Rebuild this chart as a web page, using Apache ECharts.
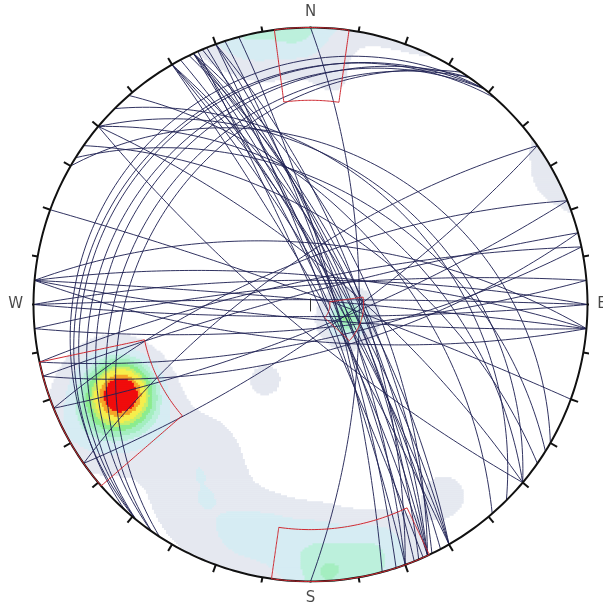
<!DOCTYPE html>
<html>
<head>
<meta charset="utf-8">
<script src="https://cdn.jsdelivr.net/npm/echarts/dist/echarts.min.js"></script>
<style>
html,body{margin:0;padding:0;background:#ffffff;}
#chart{width:603px;height:607px;}
</style>
</head>
<body>
<div id="chart"></div>
<script>
// Lower-hemisphere equal-angle stereonet: planes as great circles, pole density contours, set windows.

// Planes (dip direction / dip, degrees)
const setA_dipDir = [60,60,60,60,62,64,65,65,65,65,65,66,67,68,70,70,70,72,75,90];
const setA_dip    = [72,76,80,85,78,70,66,72,75,79,83,87,74,81,70,77,84,80,80,70];
const setB_dipDir = [0,180,0,5,5,185,5,185,355,175,348,168,165,345,338,158,325,145];
const setB_dip    = [88,85,80,65,78,84,88,75,82,80,80,75,70,85,72,80,72,78];
const setC_dipDir = [309,309,309,312,305,305,303];
const setC_dip    = [11,14,17,13,19,23,26];
const setD_dipDir = [30,40,32,40,45,49,35,40,220,20];
const setD_dip    = [32,38,45,49,40,55,58,75,80,86];

// Pole concentrations (trend, plunge, weight, spread in degrees)
const poleTrend  = [245,238,110,358,358,164,176,187,63,211,145,218,208,208,350,6,345,190,178,197];
const polePlunge = [16,4,74,0,3,5,6,6,3,55,10,24,11,12.6,8,12,3,14,14,6];
const poleWeight = [10,1.3,6.5,2.4,0.7,3.9,1.9,1.6,0.8,3.0,2.6,2.2,2.2,0.4,1.3,1.7,0.9,1.6,1.5,1.7];
const poleSpread = [8.5,7,8,6,4,7,7,6,5,5,5,11,11,1.5,6,6,5,6,6,6];

// Contour levels and fills
const contourLevels = [1.72,3.37,4.79,5.54,6.37,7.12,7.69,8.54,9.14];
const contourColors = ['#e5e8f0','#d6ecf3','#bcf0dc','#a4eec0','#8cec8e','#c8ef6a','#f6ee4c','#f6a428','#f00c0c'];

// Set windows: [trend from, trend to, plunge from, plunge to]
const windowTrendFrom  = [352.5,154.6,229.1,82];
const windowTrendTo    = [368,188.1,258,133];
const windowPlungeFrom = [0,0,0,68.3];
const windowPlungeTo   = [17.2,11.8,27,82];

const compassLabels = ['N','E','S','W'];

const D2R = Math.PI/180;

function project(trend, plunge){
  const r = Math.tan((90 - plunge) / 2 * D2R);
  return [r * Math.sin(trend*D2R), r * Math.cos(trend*D2R)];
}
function vec(trend, plunge){
  const c = Math.cos(plunge*D2R);
  return [c*Math.sin(trend*D2R), c*Math.cos(trend*D2R), Math.sin(plunge*D2R)];
}
function greatCircle(dd, dip){
  const s = (dd - 90) * D2R;
  const S = [Math.sin(s), Math.cos(s), 0];
  const Dv = vec(dd, dip);
  const pts = [];
  const n = 120;
  for (let i = 0; i <= n; i++){
    const t = Math.PI * i / n;
    const e = Math.cos(t)*S[0] + Math.sin(t)*Dv[0];
    const no = Math.cos(t)*S[1] + Math.sin(t)*Dv[1];
    const d = Math.max(0, Math.cos(t)*S[2] + Math.sin(t)*Dv[2]);
    const pl = Math.asin(Math.min(1,d))/D2R;
    const tr = Math.atan2(e, no)/D2R;
    pts.push(project(tr, pl));
  }
  return pts;
}

// great circles
const circles = [];
[[setA_dipDir,setA_dip],[setB_dipDir,setB_dip],[setC_dipDir,setC_dip],[setD_dipDir,setD_dip]].forEach(([dds,dips])=>{
  dds.forEach((dd,i)=>circles.push({coords: greatCircle(dd, dips[i])}));
});

// density grid, stored as horizontal runs of equal level
const poleVecs = poleTrend.map((t,i)=>vec(t, polePlunge[i]));
const step = 1/138;
const runs = [];
for (let y = 1 - step/2; y > -1; y -= step){
  let cur = 0, start = null;
  for (let x = -1 + step/2; x < 1; x += step){
    const r = Math.hypot(x, y);
    let lvl = 0;
    if (r <= 1){
      const pl = 90 - 2*Math.atan(r)/D2R;
      const tr = Math.atan2(x, y)/D2R;
      const v = vec(tr, pl);
      let dens = 0;
      for (let k = 0; k < poleVecs.length; k++){
        const p = poleVecs[k];
        const dot = Math.min(1, Math.abs(v[0]*p[0]+v[1]*p[1]+v[2]*p[2]));
        const th = Math.acos(dot)/D2R;
        const sg = poleSpread[k];
        dens += poleWeight[k]*Math.exp(-th*th/(2*sg*sg));
      }
      for (let L = 0; L < contourLevels.length; L++) if (dens >= contourLevels[L]) lvl = L+1;
    }
    if (lvl !== cur){
      if (cur > 0) runs.push([start, x - step/2, y, cur]);
      cur = lvl; start = x - step/2;
    }
  }
  if (cur > 0) runs.push([start, 1, y, cur]);
}

// windows
function windowPath(t1, t2, p1, p2){
  const pts = [];
  const n = 40;
  for (let i = 0; i <= n; i++) pts.push(project(t1, p1 + (p2-p1)*i/n));
  for (let i = 0; i <= n; i++) pts.push(project(t1 + (t2-t1)*i/n, p2));
  for (let i = 0; i <= n; i++) pts.push(project(t2, p2 - (p2-p1)*i/n));
  for (let i = 0; i <= n; i++) pts.push(project(t2 - (t2-t1)*i/n, p1));
  return pts;
}
const windows = windowTrendFrom.map((t,i)=>({coords: windowPath(t, windowTrendTo[i], windowPlungeFrom[i], windowPlungeTo[i])}));

// primitive and ticks
const rim = [];
for (let a = 0; a <= 360; a += 1) rim.push([Math.sin(a*D2R), Math.cos(a*D2R)]);
const ticks = [];
for (let a = 0; a < 360; a += 10){
  const len = (a === 270) ? 1.036 : 1.028;
  ticks.push({coords: [[Math.sin(a*D2R), Math.cos(a*D2R)], [len*Math.sin(a*D2R), len*Math.cos(a*D2R)]]});
}
const labelPos = [[0,1.054],[1.052,0],[0,-1.06],[-1.064,0]];

const chart = echarts.init(document.getElementById('chart'), null, {renderer:'canvas'});
chart.setOption({
  animation: false,
  backgroundColor: '#ffffff',
  grid: {left: 33.5, top: 27.5, width: 554, height: 554},
  xAxis: {type:'value', min:-1, max:1, show:false},
  yAxis: {type:'value', min:-1, max:1, show:false},
  series: [
    {
      type: 'custom', clip: false, silent: true,
      data: runs,
      encode: {x: [0,1], y: 2},
      renderItem: function(params, api){
        const a = api.coord([api.value(0), api.value(2) + step/2]);
        const b = api.coord([api.value(1), api.value(2) - step/2]);
        return {type:'rect', shape:{x:a[0], y:a[1], width:b[0]-a[0]+0.6, height:b[1]-a[1]+0.6},
                style:{fill: contourColors[api.value(3)-1]}};
      },
      z: 1
    },
    {
      type: 'lines', coordinateSystem: 'cartesian2d', polyline: true, silent: true,
      data: circles,
      lineStyle: {color:'#1f2254', width:1, opacity:0.92},
      z: 2
    },
    {
      type: 'lines', coordinateSystem: 'cartesian2d', polyline: true, silent: true,
      data: [{coords: rim}].concat(ticks),
      lineStyle: {color:'#111111', width:2, opacity:1},
      z: 3
    },
    {
      type: 'lines', coordinateSystem: 'cartesian2d', polyline: true, silent: true,
      data: windows,
      lineStyle: {color:'#cf2a32', width:1, opacity:1},
      z: 4
    },
    {
      type: 'lines', coordinateSystem: 'cartesian2d', polyline: true, silent: true,
      data: [{coords: [[0,0.022],[0,-0.025]]}],
      lineStyle: {color:'#333333', width:1, opacity:1},
      z: 4
    },
    {
      type: 'scatter', clip: false, silent: true, symbolSize: 0,
      data: labelPos.map((p,i)=>({value:p, label:{formatter: compassLabels[i]}})),
      label: {show:true, position:'inside', fontFamily:'DejaVu Sans', fontSize:15, color:'#1a1a1a'},
      z: 5
    }
  ]
});
</script>
</body>
</html>
